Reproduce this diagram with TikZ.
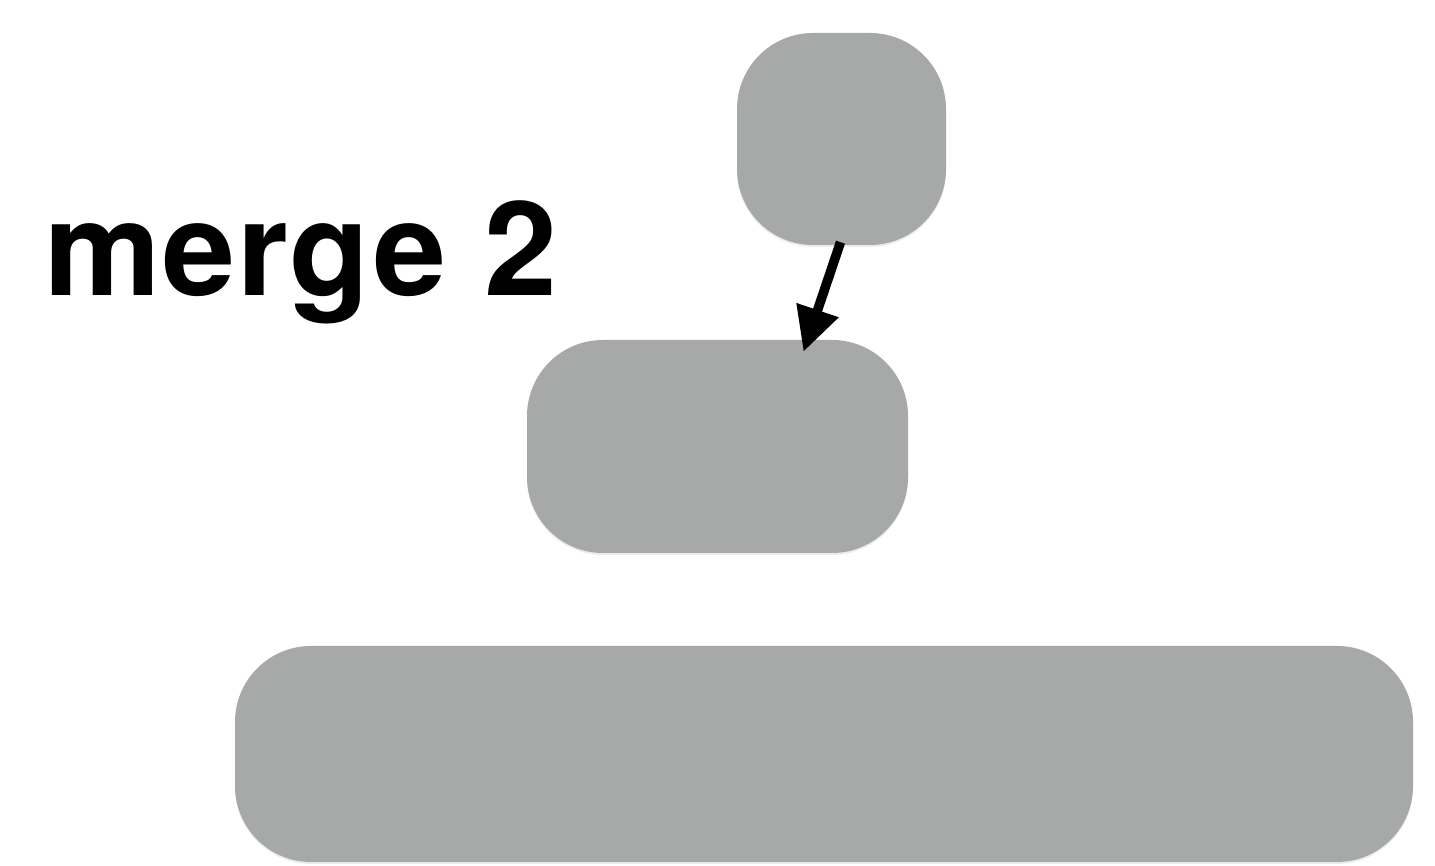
\documentclass[tikz,border=0pt]{standalone}
\usepackage{fontspec}
\setmainfont{TeX Gyre Heros}
\newfontfamily\titlefont[LetterSpace=1.4]{TeX Gyre Heros}
\usetikzlibrary{arrows.meta,shadows}
\definecolor{boxgray}{HTML}{A6A9A8}

\begin{document}
\begin{tikzpicture}[x=1pt,y=1pt,>={Triangle[length=44pt,width=42pt]},
  blob/.style={rectangle,fill=boxgray,rounded corners=76pt,inner sep=0pt,
               drop shadow={opacity=.15,shadow xshift=0pt,shadow yshift=-2pt}},
  arr/.style={->,line width=9.5pt,black}]
 \useasboundingbox (0,0) rectangle (1435,866);
 \node[blob,minimum width=209pt,minimum height=212pt] (top) at (841.5,727) {};
 \node[blob,minimum width=381pt,minimum height=213pt] (mid) at (717.5,419.5) {};
 \node[blob,minimum width=1178pt,minimum height=216pt] (bot) at (824,112) {};
 \node[anchor=base west,inner sep=0pt,font=\titlefont\fontsize{131}{131}\selectfont\bfseries]
      (title) at (44,570) {merge 2};
 \draw[arr] ([xshift=-1pt,yshift=3pt]top.south) -- ([xshift=86pt,yshift=-12pt]mid.north);
\end{tikzpicture}
\end{document}
